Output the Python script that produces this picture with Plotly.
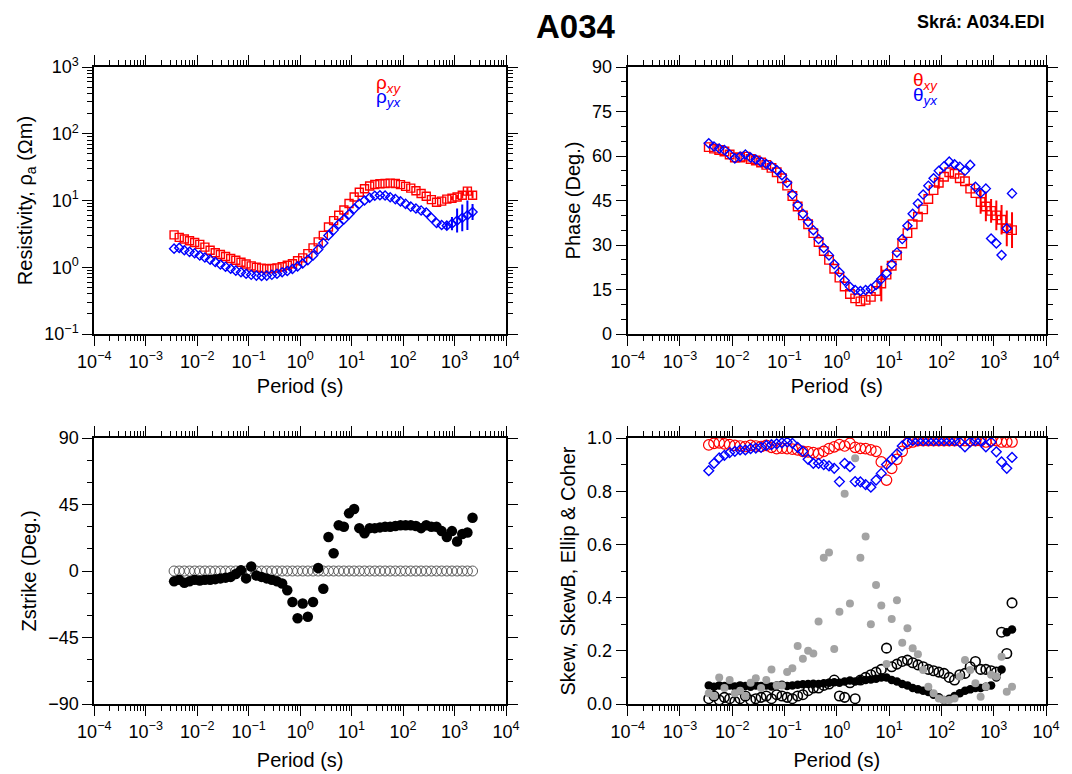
import plotly.graph_objects as go

W, H = 1072, 774
FONT = "Liberation Sans, Arial, Helvetica, sans-serif"

# ---------------- data ----------------
periods = [0.00355, 0.00447, 0.00562, 0.00708, 0.00891, 0.0112, 0.0141, 0.0178, 0.0224, 0.0282,
           0.0355, 0.0447, 0.0562, 0.0708, 0.0891, 0.112, 0.141, 0.178, 0.224, 0.282,
           0.355, 0.447, 0.562, 0.708, 0.891, 1.12, 1.41, 1.78, 2.24, 2.82,
           3.55, 4.47, 5.62, 7.08, 8.91, 11.2, 14.1, 17.8, 22.4, 28.2,
           35.5, 44.7, 56.2, 70.8, 89.1, 112, 141, 178, 224, 282,
           355, 447, 562, 708, 891, 1122, 1413, 1778, 2239]

rho_xy = [3.05, 2.8, 2.65, 2.5, 2.35, 2.2, 2.0, 1.8, 1.65, 1.55,
          1.45, 1.35, 1.27, 1.19, 1.12, 1.05, 1.0, 0.97, 0.95, 0.96,
          0.98, 1.02, 1.07, 1.13, 1.25, 1.38, 1.6, 1.95, 2.4, 3.0,
          4.0, 5.0, 6.0, 7.2, 9.0, 11.3, 13.3, 15.0, 16.5, 17.4,
          17.8, 18.0, 18.2, 18.0, 17.3, 16.3, 15.3, 14.0, 12.7, 11.6,
          10.3, 9.4, 9.8, 10.5, 10.8, 11.3, 12.0, 13.8, 12.0]
rho_xy_logerr = [0, 0, 0, 0, 0, 0, 0, 0, 0, 0,
                 0, 0, 0, 0, 0, 0, 0, 0, 0, 0,
                 0, 0, 0, 0, 0, 0, 0, 0, 0, 0,
                 0, 0, 0, 0, 0, 0, 0, 0, 0, 0,
                 0, 0, 0, 0, 0, 0, 0, 0, 0, 0,
                 0, 0, 0, 0, 0.03, 0.03, 0.05, 0.06, 0.05]

rho_yx = [1.9, 1.95, 1.8, 1.7, 1.62, 1.5, 1.4, 1.3, 1.2, 1.1,
          1.02, 0.95, 0.89, 0.84, 0.8, 0.77, 0.75, 0.74, 0.75, 0.77,
          0.8, 0.84, 0.88, 0.94, 1.03, 1.14, 1.28, 1.5, 1.85, 2.3,
          3.0, 3.6, 4.4, 5.2, 6.2, 7.5, 8.9, 10.0, 11.0, 11.8,
          12.0, 11.9, 11.2, 10.5, 9.7, 8.9, 8.1, 7.6, 7.1, 6.6,
          5.5, 4.6, 4.3, 4.2, 4.5, 5.0, 5.5, 6.0, 6.7]
rho_yx_logerr = [0, 0, 0, 0, 0, 0, 0, 0, 0, 0,
                 0, 0, 0, 0, 0, 0, 0, 0, 0, 0,
                 0, 0, 0, 0, 0, 0, 0, 0, 0, 0,
                 0, 0, 0, 0, 0, 0, 0, 0, 0, 0,
                 0, 0, 0, 0, 0, 0, 0, 0, 0, 0,
                 0, 0, 0, 0.05, 0.1, 0.18, 0.2, 0.22, 0.12]

phase_xy = [63.0, 62.5, 62.0, 61.5, 60.5, 59.5, 59.5, 59.8, 59.0, 58.5,
            57.8, 57.0, 56.0, 54.5, 52.5, 50.0, 46.5, 43.0, 40.0, 37.0,
            34.0, 31.0, 28.0, 25.0, 22.0, 19.0, 16.0, 13.5, 12.0, 11.0,
            11.5, 12.5, 14.5, 17.0, 20.0, 23.0, 26.5, 30.5, 34.0, 37.0,
            39.5, 42.0, 45.5, 48.5, 51.0, 53.0, 54.5, 54.0, 52.5, 51.5,
            49.0, 47.5, 44.5, 43.0, 41.5, 40.0, 38.5, 35.6, 35.0]
phase_xy_err = [0, 0, 0, 0, 0, 0, 0, 0, 0, 0,
                0, 0, 0, 0, 0, 0, 0, 0, 0, 0,
                0, 0, 0, 0, 0, 0, 0, 0, 0, 0,
                0, 0, 0, 6.0, 0, 0, 0, 0, 0, 0,
                0, 0, 0, 0, 2.0, 0, 0, 0, 0, 0,
                0, 0, 4.0, 5.0, 4.0, 5.0, 5.0, 6.0, 6.0]

phase_yx = [64.3, 63.2, 62.5, 62.0, 60.5, 59.2, 59.8, 60.5, 59.5, 58.8,
            58.0, 57.3, 56.5, 55.3, 53.5, 51.0, 47.0, 43.5, 40.5, 37.8,
            35.0, 32.0, 29.0, 26.5, 23.5, 20.8, 18.0, 15.9, 14.8, 14.5,
            14.8, 15.2, 16.5, 18.5, 20.5, 23.5, 27.5, 32.0, 36.5, 40.5,
            44.0, 47.0, 50.0, 52.5, 55.0, 56.5, 58.1, 57.2, 56.4, 55.0,
            57.0, 49.6, 47.5, 49.0, 32.2, 30.5, 26.6, 35.6, 47.4]

zstrike = [-7, -6, -8, -7, -6, -6.5, -6, -6, -5.5, -5,
           -4.5, -4, -2, 0.5, -5, 3, -3, -4, -5, -6,
           -7, -8.5, -13, -21, -32, -22, -31, -21, 2, -12,
           23, 12, 31, 30, 39, 42, 29, 25.5, 29, 29,
           29.5, 30, 30, 30.5, 31, 31, 31, 30.5, 29, 31,
           30, 30, 27, 23, 27, 20, 25, 26, 36]
zrot = [0, 0, 0, 0, 0, 0, 0, 0, 0, 0,
        0, 0, 0, 0, 0, 0, 0, 0, 0, 0,
        0, 0, 0, 0, 0, 0, 0, 0, 0, 0,
        0, 0, 0, 0, 0, 0, 0, 0, 0, 0,
        0, 0, 0, 0, 0, 0, 0, 0, 0, 0,
        0, 0, 0, 0, 0, 0, 0, 0, 0]

skew = [0.07, 0.065, 0.07, 0.068, 0.07, 0.066, 0.07, 0.068, 0.065, 0.07,
        0.068, 0.07, 0.066, 0.07, 0.072, 0.068, 0.07, 0.072, 0.074, 0.075,
        0.076, 0.075, 0.078, 0.08, 0.082, 0.08, 0.085, 0.088, 0.085, 0.09,
        0.09, 0.092, 0.095, 0.1, 0.1, 0.09, 0.085, 0.075, 0.07, 0.06,
        0.055, 0.05, 0.045, 0.035, 0.025, 0.015, 0.02, 0.03, 0.04, 0.05,
        0.055, 0.06, 0.06, 0.065, 0.07, 0.1, 0.13, 0.27, 0.28]
skewB = [0.04, 0.03, 0.10, 0.06, 0.09, 0.04, 0.05, 0.03, 0.08, 0.097,
         0.06, 0.09, 0.13, 0.07, 0.07, 0.12, 0.134, 0.218, 0.17, 0.2,
         0.19, 0.31, 0.55, 0.57, 0.207, 0.347, 0.79, 0.378, 0.924, 0.55,
         0.63, 0.3, 0.447, 0.37, 0.15, 0.32, 0.39, 0.23, 0.285, 0.21,
         0.187, 0.128, 0.065, 0.04, 0.021, 0.015, 0.015, 0.021, 0.103, 0.165,
         0.128, 0.078, 0.027, 0.065, 0.11, 0.103, 0.178, 0.046, 0.065]
ellip = [0.02, 0.03, 0.015, 0.025, 0.02, 0.01, 0.02, 0.03, 0.015, 0.02,
         0.025, 0.03, 0.02, 0.035, 0.03, 0.025, 0.02, 0.03, 0.035, 0.05,
         0.06, 0.06, 0.07, 0.075, 0.09, 0.03, 0.025, 0.08, 0.02, 0.09,
         0.1, 0.11, 0.12, 0.13, 0.21, 0.14, 0.15, 0.16, 0.165, 0.155,
         0.147, 0.14, 0.13, 0.125, 0.12, 0.115, 0.1, 0.09, 0.11, 0.115,
         0.14, 0.16, 0.13, 0.13, 0.125, 0.12, 0.27, 0.19, 0.38]
coh_xy = [0.974, 0.98, 0.982, 0.978, 0.975, 0.972, 0.97, 0.968, 0.972, 0.97,
          0.968, 0.972, 0.965, 0.96, 0.962, 0.96, 0.958, 0.955, 0.95, 0.948,
          0.945, 0.942, 0.95, 0.96, 0.967, 0.975, 0.97, 0.98, 0.965, 0.961,
          0.96, 0.955, 0.95, 0.91, 0.842, 0.886, 0.92, 0.95, 0.98, 0.985,
          0.99, 0.99, 0.99, 0.99, 0.99, 0.99, 0.99, 0.99, 0.99, 0.99,
          0.99, 0.99, 0.99, 0.985, 0.99, 0.99, 0.985, 0.985, 0.985]
coh_yx = [0.877, 0.905, 0.925, 0.935, 0.945, 0.95, 0.955, 0.955, 0.96, 0.962,
          0.965, 0.972, 0.975, 0.978, 0.982, 0.985, 0.98, 0.965, 0.95, 0.92,
          0.905, 0.905, 0.9, 0.895, 0.886, 0.836, 0.905, 0.892, 0.836, 0.835,
          0.825, 0.815, 0.842, 0.867, 0.9, 0.92, 0.94, 0.97, 0.985, 0.99,
          0.99, 0.99, 0.99, 0.99, 0.99, 0.99, 0.99, 0.99, 0.985, 0.967,
          0.985, 0.99, 0.99, 0.967, 0.985, 0.948, 0.91, 0.886, 0.927]

period_tickvals = [1e-4, 1e-3, 1e-2, 1e-1, 1e0, 1e1, 1e2, 1e3, 1e4]
period_ticktext = ["10<sup>\u22124</sup>", "10<sup>\u22123</sup>", "10<sup>\u22122</sup>",
                   "10<sup>\u22121</sup>", "10<sup>0</sup>", "10<sup>1</sup>",
                   "10<sup>2</sup>", "10<sup>3</sup>", "10<sup>4</sup>"]
rho_tickvals = [1e-1, 1e0, 1e1, 1e2, 1e3]
rho_ticktext = ["10<sup>\u22121</sup>", "10<sup>0</sup>", "10<sup>1</sup>",
                "10<sup>2</sup>", "10<sup>3</sup>"]
phase_tickvals = [0, 15, 30, 45, 60, 75, 90]
zstrike_tickvals = [-90, -45, 0, 45, 90]
zstrike_ticktext = ["\u221290", "\u221245", "0", "45", "90"]
skew_tickvals = [0.0, 0.2, 0.4, 0.6, 0.8, 1.0]
skew_ticktext = ["0.0", "0.2", "0.4", "0.6", "0.8", "1.0"]

RED = "#ff0000"
BLUE = "#0000ff"
GRAY = "#a3a3a3"

# ---------------- layout helpers ----------------
def xdom(a, b):
    return [a / W, b / W]


def ydom(top, bottom):
    return [1 - bottom / H, 1 - top / H]


def minor_log(e0, e1):
    return [m * 10.0 ** e for e in range(e0, e1) for m in range(2, 10)]


TICKFONT = dict(family=FONT, size=18, color="black")
TITLEFONT = dict(family=FONT, size=20, color="black")


def base_axis():
    return dict(showline=True, linewidth=2, linecolor="black", mirror="allticks",
                ticks="outside", ticklen=10, tickwidth=1.2, tickcolor="black",
                showgrid=False, zeroline=False, tickfont=TICKFONT, automargin=False)


def period_axis(domain, anchor, title, standoff):
    d = base_axis()
    d.update(domain=domain, anchor=anchor, type="log", range=[-4, 4],
             tickmode="array", tickvals=period_tickvals, ticktext=period_ticktext,
             minor=dict(tickmode="array", tickvals=minor_log(-4, 4), ticks="outside",
                        ticklen=5, tickwidth=1, tickcolor="black"),
             title=dict(text=title, font=TITLEFONT, standoff=standoff))
    return d


LX = xdom(94.3, 506)
RX = xdom(627.7, 1046)
TY = ydom(67, 334)
BY = ydom(438, 704)

fig = go.Figure()

# --- resistivity ---
def log_err(vals, errs):
    plus = [v * (10 ** e - 1) for v, e in zip(vals, errs)]
    minus = [v * (1 - 10 ** (-e)) for v, e in zip(vals, errs)]
    return plus, minus

pxy, mxy = log_err(rho_xy, rho_xy_logerr)
pyx, myx = log_err(rho_yx, rho_yx_logerr)

fig.add_trace(go.Scatter(x=periods, y=rho_xy, mode="markers", xaxis="x", yaxis="y",
                         marker=dict(symbol="square-open", size=8, color=RED, line=dict(width=1.4, color=RED)),
                         error_y=dict(type="data", array=pxy, arrayminus=mxy, color=RED, thickness=2, width=0),
                         showlegend=False))
fig.add_trace(go.Scatter(x=periods, y=rho_yx, mode="markers", xaxis="x", yaxis="y",
                         marker=dict(symbol="diamond-open", size=7, color=BLUE, line=dict(width=1.4, color=BLUE)),
                         error_y=dict(type="data", array=pyx, arrayminus=myx, color=BLUE, thickness=2, width=0),
                         showlegend=False))

# --- phase ---
fig.add_trace(go.Scatter(x=periods, y=phase_xy, mode="markers", xaxis="x2", yaxis="y2",
                         marker=dict(symbol="square-open", size=8.5, color=RED, line=dict(width=1.4, color=RED)),
                         error_y=dict(type="data", array=phase_xy_err, color=RED, thickness=2, width=0),
                         showlegend=False))
fig.add_trace(go.Scatter(x=periods, y=phase_yx, mode="markers", xaxis="x2", yaxis="y2",
                         marker=dict(symbol="diamond-open", size=7, color=BLUE, line=dict(width=1.4, color=BLUE)),
                         showlegend=False))

# --- zstrike ---
fig.add_trace(go.Scatter(x=periods, y=zrot, mode="markers", xaxis="x3", yaxis="y3",
                         marker=dict(symbol="circle-open", size=10, color="#5a5a5a", line=dict(width=1.0, color="#5a5a5a")),
                         showlegend=False))
fig.add_trace(go.Scatter(x=periods, y=zstrike, mode="markers", xaxis="x3", yaxis="y3",
                         marker=dict(symbol="circle", size=10.5, color="black", line=dict(width=0)),
                         showlegend=False))

# --- skew / coherence ---
fig.add_trace(go.Scatter(x=periods, y=skew, mode="markers", xaxis="x4", yaxis="y4",
                         marker=dict(symbol="circle", size=8.5, color="black", line=dict(width=0)),
                         showlegend=False))
fig.add_trace(go.Scatter(x=periods, y=ellip, mode="markers", xaxis="x4", yaxis="y4",
                         marker=dict(symbol="circle-open", size=9.5, color="black", line=dict(width=1.6, color="black")),
                         showlegend=False))
fig.add_trace(go.Scatter(x=periods, y=skewB, mode="markers", xaxis="x4", yaxis="y4",
                         marker=dict(symbol="circle", size=8, color=GRAY, line=dict(width=0)),
                         showlegend=False))
fig.add_trace(go.Scatter(x=periods, y=coh_xy, mode="markers", xaxis="x4", yaxis="y4",
                         marker=dict(symbol="circle-open", size=10.5, color=RED, line=dict(width=1.2, color=RED)),
                         showlegend=False))
fig.add_trace(go.Scatter(x=periods, y=coh_yx, mode="markers", xaxis="x4", yaxis="y4",
                         marker=dict(symbol="diamond-open", size=7.5, color=BLUE, line=dict(width=1.4, color=BLUE)),
                         showlegend=False))

# ---------------- axes ----------------
y1 = base_axis()
y1.update(domain=TY, anchor="x", type="log", range=[-1, 3], tickmode="array",
          tickvals=rho_tickvals, ticktext=rho_ticktext,
          minor=dict(tickmode="array", tickvals=minor_log(-1, 3), ticks="outside",
                     ticklen=5, tickwidth=1, tickcolor="black"),
          title=dict(text="Resistivity, \u03c1<sub>a</sub> (\u03a9m)", font=TITLEFONT, standoff=6))
y2 = base_axis()
y2.update(domain=TY, anchor="x2", range=[0, 90], tickmode="array", tickvals=phase_tickvals,
          minor=dict(dtick=5, ticks="outside", ticklen=5, tickwidth=1, tickcolor="black"),
          title=dict(text="Phase (Deg.)", font=TITLEFONT, standoff=6))
y3 = base_axis()
y3.update(domain=BY, anchor="x3", range=[-90, 90], tickmode="array", tickvals=zstrike_tickvals,
          ticktext=zstrike_ticktext,
          minor=dict(dtick=15, ticks="outside", ticklen=5, tickwidth=1, tickcolor="black"),
          title=dict(text="Zstrike (Deg.)", font=TITLEFONT, standoff=6))
y4 = base_axis()
y4.update(domain=BY, anchor="x4", range=[0, 1], tickmode="array", tickvals=skew_tickvals,
          ticktext=skew_ticktext,
          minor=dict(dtick=0.1, ticks="outside", ticklen=5, tickwidth=1, tickcolor="black"),
          title=dict(text="Skew, SkewB, Ellip &amp; Coher", font=TITLEFONT, standoff=6))

fig.update_layout(
    width=W, height=H,
    margin=dict(l=0, r=0, t=0, b=0),
    paper_bgcolor="white", plot_bgcolor="white",
    font=dict(family=FONT, color="black"),
    xaxis=period_axis(LX, "y", "Period (s)", 8),
    xaxis2=period_axis(RX, "y2", "Period\u00a0\u00a0(s)", 8),
    xaxis3=period_axis(LX, "y3", "Period (s)", 12),
    xaxis4=period_axis(RX, "y4", "Period (s)", 12),
    yaxis=y1, yaxis2=y2, yaxis3=y3, yaxis4=y4,
    showlegend=False,
)

ann = [
    dict(text="<b>A034</b>", x=576 / W, y=1 - 27 / H, font=dict(family=FONT, size=33, color="black"),
         xanchor="center", yanchor="middle"),
    dict(text="<b>Skr\u00e1: A034.EDI</b>", x=1046 / W, y=1 - 22 / H, font=dict(family=FONT, size=18, color="black"),
         xanchor="right", yanchor="middle"),
    dict(text="\u03c1<sub><i>xy</i></sub>", x=374 / W, y=1 - 84 / H, font=dict(family=FONT, size=19, color=RED),
         xanchor="left", yanchor="middle"),
    dict(text="\u03c1<sub><i>yx</i></sub>", x=374 / W, y=1 - 98 / H, font=dict(family=FONT, size=19, color=BLUE),
         xanchor="left", yanchor="middle"),
    dict(text="\u03b8<sub><i>xy</i></sub>", x=911 / W, y=1 - 81 / H, font=dict(family=FONT, size=19, color=RED),
         xanchor="left", yanchor="middle"),
    dict(text="\u03b8<sub><i>yx</i></sub>", x=911 / W, y=1 - 96 / H, font=dict(family=FONT, size=19, color=BLUE),
         xanchor="left", yanchor="middle"),
]
for a in ann:
    a.update(xref="paper", yref="paper", showarrow=False)
fig.update_layout(annotations=ann)

fig.write_html("out.html")
